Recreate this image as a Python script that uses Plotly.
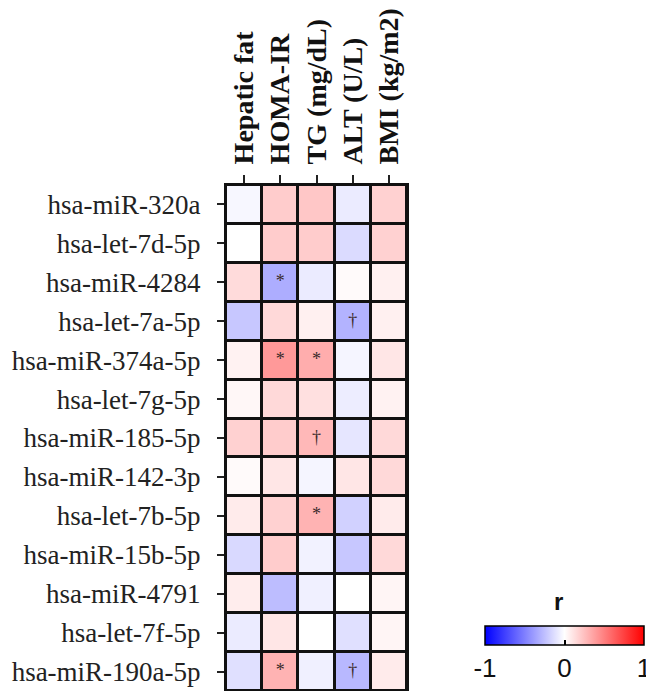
import plotly.graph_objects as go

rows = ["hsa-miR-320a", "hsa-let-7d-5p", "hsa-miR-4284", "hsa-let-7a-5p",
        "hsa-miR-374a-5p", "hsa-let-7g-5p", "hsa-miR-185-5p", "hsa-miR-142-3p",
        "hsa-let-7b-5p", "hsa-miR-15b-5p", "hsa-miR-4791", "hsa-let-7f-5p",
        "hsa-miR-190a-5p"]
cols = ["Hepatic fat", "HOMA-IR", "TG (mg/dL)", "ALT (U/L)", "BMI (kg/m2)"]

r_values = [
    [-0.03, 0.20, 0.22, -0.08, 0.18],
    [0.00, 0.20, 0.20, -0.14, 0.18],
    [0.14, -0.32, -0.08, 0.02, 0.06],
    [-0.22, 0.15, 0.06, -0.30, 0.06],
    [0.05, 0.40, 0.32, -0.04, 0.10],
    [0.03, 0.15, 0.12, -0.07, 0.05],
    [0.18, 0.20, 0.28, -0.10, 0.15],
    [0.02, 0.10, -0.04, 0.10, 0.15],
    [0.08, 0.18, 0.30, -0.18, 0.08],
    [-0.15, 0.20, -0.05, -0.22, 0.15],
    [0.07, -0.26, -0.06, 0.00, 0.04],
    [-0.08, 0.10, 0.00, -0.12, 0.04],
    [-0.12, 0.30, -0.06, -0.28, 0.08],
]
sig_marks = [
    ["", "", "", "", ""],
    ["", "", "", "", ""],
    ["", "*", "", "", ""],
    ["", "", "", "\u2020", ""],
    ["", "*", "*", "", ""],
    ["", "", "", "", ""],
    ["", "", "\u2020", "", ""],
    ["", "", "", "", ""],
    ["", "", "*", "", ""],
    ["", "", "", "", ""],
    ["", "", "", "", ""],
    ["", "", "", "", ""],
    ["", "*", "", "\u2020", ""],
]
cbar_ticks = [-1, 0, 1]

# page body has an 8px margin; figure is placed at (8, 8)
OFF = 8
W, H = 654 - OFF, 691 - OFF
x0, x1 = 226 - OFF, 407 - OFF
y_top = 185 - OFF
cb_left, cb_right = 485, 644

fig = go.Figure()
fig.add_trace(go.Heatmap(
    z=r_values, x=cols, y=rows,
    zmin=-1, zmax=1,
    colorscale=[[0, "rgb(0,0,255)"], [0.5, "rgb(255,255,255)"], [1, "rgb(255,0,0)"]],
    xgap=3, ygap=3,
    colorbar=dict(
        orientation="h", thickness=19, len=(cb_right - cb_left) / W, lenmode="fraction",
        x=((cb_left + cb_right) / 2 - OFF) / W, xanchor="center",
        y=1 - (626 - OFF) / H, yanchor="top", ypad=0, xpad=0,
        outlinecolor="black", outlinewidth=1.5,
        tickvals=cbar_ticks, ticktext=[str(t) for t in cbar_ticks],
        ticks="inside", ticklen=5, tickwidth=2, tickcolor="black",
        tickfont=dict(family="Liberation Sans", size=26, color="#111"),
    ),
    hoverinfo="skip",
))

tx, ty, tt = [], [], []
for i, rname in enumerate(rows):
    for j, cname in enumerate(cols):
        if sig_marks[i][j]:
            tx.append(cname); ty.append(rname); tt.append(sig_marks[i][j])
fig.add_trace(go.Scatter(
    x=tx, y=ty, text=tt, mode="text",
    textfont=dict(family="Liberation Serif", size=18, color="#3a2a2a"),
    textposition="middle center", showlegend=False, hoverinfo="skip",
))

fig.add_annotation(
    text="<b>r</b>", x=(565 - OFF) / W, y=1 - (617 - OFF) / H, xref="paper", yref="paper",
    showarrow=False, font=dict(family="Liberation Sans", size=24, color="#111"),
)

fig.update_xaxes(
    domain=[x0 / W, x1 / W], side="top", tickangle=-90,
    type="category", categoryorder="array", categoryarray=cols,
    ticks="outside", ticklen=8, tickwidth=2, tickcolor="#222",
    ticklabelstandoff=5,
    tickfont=dict(family="Liberation Serif", size=28, color="#111", weight="bold"),
    showline=True, linecolor="#111", linewidth=2, mirror=True,
    showgrid=False, zeroline=False, automargin=False,
    range=[-0.5, 4.5],
)
fig.update_yaxes(
    domain=[0, 1 - y_top / H],
    type="category", categoryorder="array", categoryarray=rows,
    range=[12.5, -0.5],
    ticks="outside", ticklen=7, tickwidth=2, tickcolor="#222",
    ticklabelstandoff=11,
    tickfont=dict(family="Liberation Serif", size=27, color="#222"),
    showline=True, linecolor="#111", linewidth=2, mirror=True,
    showgrid=False, zeroline=False, automargin=False,
)
fig.update_layout(
    width=W, height=H,
    margin=dict(l=0, r=0, t=0, b=0),
    plot_bgcolor="#111", paper_bgcolor="white",
    showlegend=False,
)
fig.write_html("out.html")
